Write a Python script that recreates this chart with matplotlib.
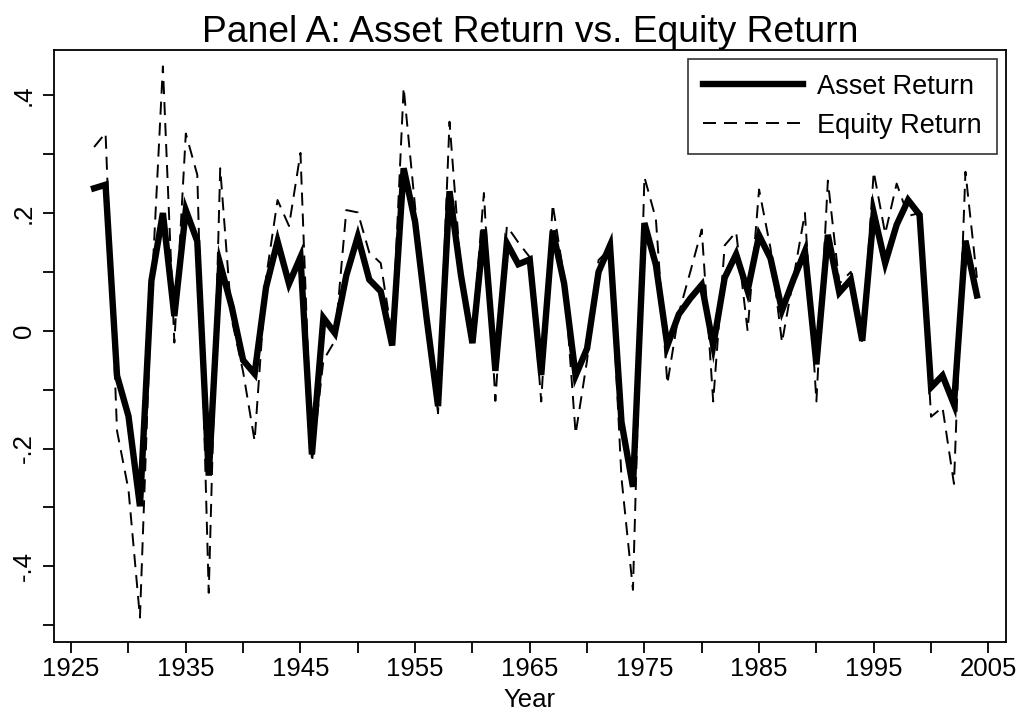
import matplotlib
matplotlib.use("Agg")
import matplotlib.pyplot as plt
import numpy as np

years = list(range(1927, 2005))

asset_return = [
    0.242, 0.248, -0.076, -0.145, -0.298, 0.085, 0.200, 0.025, 0.205, 0.152,
    -0.246, 0.113, 0.041, -0.05, -0.073, 0.074, 0.152, 0.080, 0.125, -0.210,
    0.022, -0.004, 0.094, 0.160, 0.087, 0.067, -0.025, 0.276, 0.185, 0.022,
    -0.128, 0.237, 0.094, -0.021, 0.172, -0.068, 0.149, 0.113, 0.121, -0.075,
    0.170, 0.080, -0.076, -0.030, 0.100, 0.145, -0.155, -0.265, 0.183, 0.112,
    -0.025, 0.028, 0.055, 0.078, -0.025, 0.090, 0.130, 0.068, 0.162, 0.123,
    0.035, 0.087, 0.135, -0.057, 0.163, 0.065, 0.087, -0.017, 0.200, 0.115,
    0.180, 0.222, 0.197, -0.096, -0.076, -0.125, 0.153, 0.060,
]

equity_return = [
    0.312, 0.336, -0.17, -0.27, -0.487, 0.06, 0.449, -0.02, 0.335, 0.265,
    -0.445, 0.276, 0.02, -0.07, -0.187, 0.09, 0.222, 0.178, 0.302, -0.223,
    -0.05, -0.017, 0.205, 0.201, 0.133, 0.115, -0.01, 0.413, 0.21, 0.03,
    -0.14, 0.355, 0.10, -0.01, 0.234, -0.119, 0.178, 0.15, 0.125, -0.12,
    0.215, 0.09, -0.175, -0.05, 0.12, 0.14, -0.25, -0.44, 0.261, 0.19,
    -0.09, 0.03, 0.10, 0.172, -0.12, 0.145, 0.168, 0.0, 0.24, 0.14,
    -0.02, 0.09, 0.2, -0.12, 0.255, 0.08, 0.10, -0.02, 0.27, 0.165,
    0.25, 0.195, 0.2, -0.146, -0.13, -0.26, 0.27, 0.09,
]

title = "Panel A: Asset Return vs. Equity Return"
xlabel = "Year"
x_major = list(range(1925, 2006, 10))
x_minor = list(range(1930, 2006, 10))
y_major = [-0.4, -0.2, 0.0, 0.2, 0.4]
y_major_labels = ["-.4", "-.2", "0", ".2", ".4"]
y_minor = [-0.5, -0.3, -0.1, 0.1, 0.3]

plt.rcParams['font.family'] = ['Liberation Sans', 'DejaVu Sans']

fig = plt.figure(figsize=(10.24, 7.13), dpi=100)
ax = fig.add_axes([0.0527, 0.100, 0.9293, 0.830])

ax.plot(years, asset_return, color='black', lw=4.6, solid_joinstyle='miter',
        label='Asset Return', zorder=2)
ax.plot(years, equity_return, color='black', lw=1.4, linestyle=(0, (6.7, 4.1)),
        label='Equity Return', zorder=3)

ax.set_xlim(1923.5, 2006.5)
ax.set_ylim(-0.528, 0.477)

ax.set_xticks(x_major)
ax.set_xticklabels([str(v) for v in x_major])
ax.set_xticks(x_minor, minor=True)
ax.set_yticks(y_major)
ax.set_yticklabels(y_major_labels, rotation=90, va='center')
ax.set_yticks(y_minor, minor=True)

ax.tick_params(axis='both', which='both', direction='out', length=8, width=1.3,
               labelsize=18.5, color='black')
ax.tick_params(axis='x', which='major', pad=3)
ax.tick_params(axis='y', which='major', pad=5)

for s in ax.spines.values():
    s.set_linewidth(1.3)

ax.set_title(title, fontsize=26.8, pad=4)
ax.set_xlabel(xlabel, fontsize=18.5, labelpad=5)

leg = ax.legend(loc='upper right', fontsize=19.5, frameon=True, fancybox=False,
                edgecolor='black', handlelength=3.7, handletextpad=0.52,
                borderpad=0.55, labelspacing=0.48, borderaxespad=0.33)
leg.get_frame().set_linewidth(1.2)

fig.savefig('out.png', dpi=100, facecolor='white')
